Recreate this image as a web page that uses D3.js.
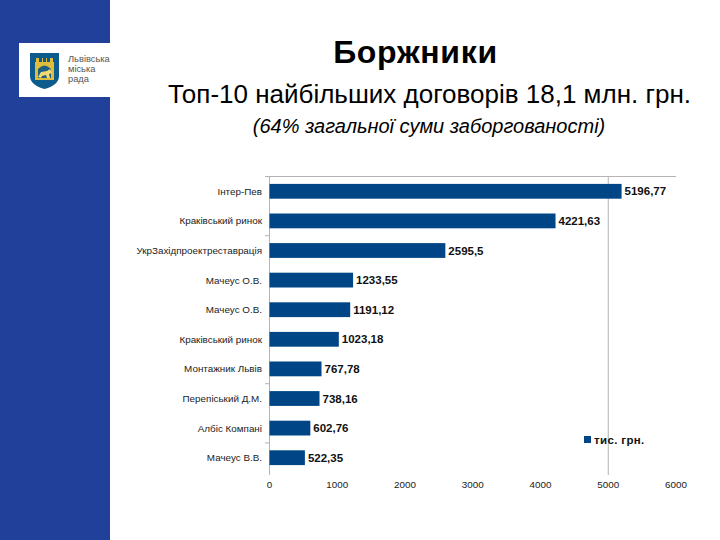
<!DOCTYPE html>
<html><head><meta charset="utf-8">
<script src="https://cdnjs.cloudflare.com/ajax/libs/d3/7.8.5/d3.min.js"></script>
<style>html,body{margin:0;padding:0;background:#fff}svg{display:block}text{font-family:"Liberation Sans",Arial,sans-serif}</style>
</head><body><div id="c"></div>
<script>
const categories=["Інтер-Пев","Краківський ринок","УкрЗахідпроектреставрація","Мачеус О.В.","Мачеус О.В.","Краківський ринок","Монтажник Львів","Перепіський Д.М.","Албіс Компані","Мачеус В.В."];
const values=[5196.77,4221.63,2595.5,1233.55,1191.12,1023.18,767.78,738.16,602.76,522.35];
const valueLabels=["5196,77","4221,63","2595,5","1233,55","1191,12","1023,18","767,78","738,16","602,76","522,35"];
const xTicks=[0,1000,2000,3000,4000,5000,6000];
const gridTicks=[5000];
const visibleCategoryTicks=[2,7,9];
const seriesName="тис. грн.";
const title="Боржники";
const subtitle="Топ-10 найбільших договорів 18,1 млн. грн.";
const note="(64% загальної суми заборгованості)";
const logoLines=["Львівська","міська","рада"];

const svg=d3.select("#c").append("svg").attr("width",720).attr("height",540);
const blue="#004586", grid="#b3b3b3";
svg.append("rect").attr("width",110).attr("height",540).attr("fill","#21409a");
svg.append("rect").attr("x",19).attr("y",43).attr("width",91).attr("height",54).attr("fill","#fff");
// logo: shield, castle and lion
const logo=svg.append("g");
logo.append("path").attr("d","M30 53H59V76Q59 85 44.5 89Q30 85 30 76Z").attr("fill","#0d5a8c");
logo.append("path").attr("d","M35 80V62H36V58H39V62H42V58H43V62H46V58H47V62H50V58H53V62H54V80Z").attr("fill","#e0bc3c");
logo.append("path").attr("d","M38 78V69Q44.5 62 51 69V78Z").attr("fill","#1d5f80");
logo.append("path").attr("d","M38 77L41 72L47 71L50 69L52 73L49 74L50 78H47L46 75L42 76L41 78Z").attr("fill","#f0d873");
logo.selectAll("text").data(logoLines).join("text").attr("x",68).attr("y",(d,i)=>[62,72,82][i]).attr("font-size",9.3).attr("fill","#555").text(d=>d);

svg.append("text").attr("x",415.5).attr("y",63).attr("text-anchor","middle").attr("font-size",32).attr("letter-spacing",0.7).attr("font-weight","bold").attr("fill","#000").text(title);
svg.append("text").attr("x",429.5).attr("y",103).attr("text-anchor","middle").attr("font-size",26).attr("fill","#000").text(subtitle);
svg.append("text").attr("x",429).attr("y",133).attr("text-anchor","middle").attr("font-size",20).attr("font-style","italic").attr("fill","#000").text(note);

const x=d3.scaleLinear().domain([0,6000]).range([269.5,676]);
const y=d3.scaleBand().domain(d3.range(categories.length)).range([176.5,472.5]).paddingInner(0.5).paddingOuter(0.25);
const g=svg.append("g");
g.selectAll("line.g").data(gridTicks).join("line").attr("class","g")
 .attr("x1",d=>x(d)).attr("x2",d=>x(d)).attr("y1",176.5).attr("y2",475).attr("stroke",grid);
g.append("line").attr("x1",265).attr("x2",x(6000)).attr("y1",176.5).attr("y2",176.5).attr("stroke",grid);
g.append("line").attr("x1",x(0)).attr("x2",x(0)).attr("y1",176.5).attr("y2",475).attr("stroke",grid);
g.selectAll("line.t").data(visibleCategoryTicks).join("line").attr("class","t")
 .attr("x1",265).attr("x2",x(0)).attr("y1",d=>y(d)-y.step()*0.25).attr("y2",d=>y(d)-y.step()*0.25).attr("stroke",grid);
g.selectAll("rect.b").data(values).join("rect").attr("class","b")
 .attr("x",x(0)).attr("y",(d,i)=>y(i)).attr("width",d=>x(d)-x(0)).attr("height",y.bandwidth()).attr("fill",blue);
g.selectAll("text.c").data(categories).join("text").attr("class","c")
 .attr("x",262).attr("y",(d,i)=>y(i)+y.bandwidth()/2+3.5).attr("text-anchor","end").attr("font-size",9.85).attr("fill","#222").text(d=>d);
g.selectAll("text.v").data(values).join("text").attr("class","v")
 .attr("x",d=>x(d)+3).attr("y",(d,i)=>y(i)+y.bandwidth()/2+4).attr("font-size",11.5).attr("font-weight","bold").attr("fill","#111").text((d,i)=>valueLabels[i]);
g.selectAll("text.x").data(xTicks).join("text").attr("class","x")
 .attr("x",d=>x(d)).attr("y",488).attr("text-anchor","middle").attr("font-size",9.85).attr("fill","#222").text(d=>d);
svg.append("rect").attr("x",584).attr("y",436).attr("width",7).attr("height",7).attr("fill",blue);
svg.append("text").attr("x",594).attr("y",443.5).attr("font-size",11.5).attr("letter-spacing",0.35).attr("font-weight","bold").attr("fill","#111").text(seriesName);
</script></body></html>
